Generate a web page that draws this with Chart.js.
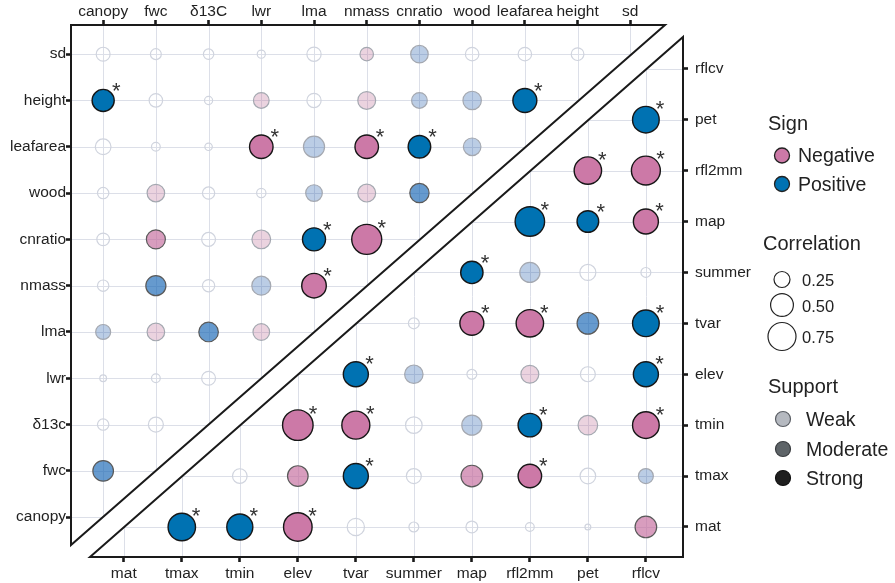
<!DOCTYPE html>
<html>
<head>
<meta charset="utf-8">
<script src="https://cdn.jsdelivr.net/npm/chart.js@4.4.1/dist/chart.umd.min.js"></script>
<style>
  html, body { margin: 0; padding: 0; background: #fff; }
</style>
</head>
<body>
<canvas id="corrChart" width="895" height="583"></canvas>
<script>
// Trait x trait panel (top + left axes)
const traitCols = ['canopy', 'fwc', 'δ13C', 'lwr', 'lma', 'nmass', 'cnratio', 'wood', 'leafarea', 'height', 'sd'];
const traitRows = ['canopy', 'fwc', 'δ13c', 'lwr', 'lma', 'nmass', 'cnratio', 'wood', 'leafarea', 'height', 'sd'];
// each row lists correlations with the columns before it
const traitR = [
    [],
    [0.41],
    [0.13, 0.22],
    [0.05, 0.08, 0.19],
    [0.22, -0.30, 0.37, -0.27],
    [0.13, 0.39, 0.15, 0.35, -0.58],
    [0.16, -0.35, 0.19, -0.34, 0.51, -0.86],
    [0.13, -0.30, 0.15, 0.09, 0.27, -0.31, 0.36],
    [0.24, 0.08, 0.06, -0.53, 0.43, -0.53, 0.49, 0.30],
    [0.47, 0.18, 0.07, -0.24, 0.20, -0.31, 0.24, 0.33, 0.55],
    [0.19, 0.12, 0.11, 0.07, 0.20, -0.18, 0.30, 0.18, 0.18, 0.16]
];
// N = none, W = weak, M = moderate, S = strong
const traitSupport = ['', 'M', 'NN', 'NNN', 'WWMW', 'NMNWS', 'NMNWSS', 'NWNNWWM', 'NNNSWSSW', 'SNNWNWWWS', 'NNNNNWWNNN'];

// Climate x climate panel (bottom + right axes)
const climVars = ['mat', 'tmax', 'tmin', 'elev', 'tvar', 'summer', 'map', 'rfl2mm', 'pet', 'rflcv'];
// each row lists correlations with the columns after it
const climR = [
    [0.72, 0.65, -0.78, 0.29, 0.10, 0.14, 0.08, 0.04, -0.45],
    [0.21, -0.41, 0.60, 0.22, -0.45, -0.53, 0.24, 0.22],
    [-0.89, -0.75, 0.27, 0.39, 0.53, -0.37, -0.68],
    [0.60, 0.33, 0.10, -0.31, 0.22, 0.60],
    [0.12, -0.55, -0.72, 0.45, 0.68],
    [0.48, 0.39, 0.25, 0.10],
    [0.83, 0.45, -0.60],
    [-0.72, -0.80],
    [0.68],
    []
];
const climSupport = ['SSSNNNNNM', 'NMSNMSNW', 'SSNWSWS', 'SWNWNS', 'NSSMS', 'SWNN', 'SSS', 'SS', 'S', ''];

const sizeBreaks = [0.25, 0.50, 0.75];

const FONT = '"Liberation Sans", Arial, sans-serif';
const TEXT = '#222';

function sizeOf(v) {
    return Math.sqrt(Math.max(264 * Math.abs(v) - 2, 4));
}

function cells(rows, support, upper) {
    const pts = [];
    rows.forEach(function(vals, r) {
        vals.forEach(function(v, k) {
            const c = upper ? k : r + 1 + k;
            pts.push({ x: c, y: r, r: sizeOf(v), v: v, s: support[r][k] });
        });
    });
    return pts;
}

const fills = {
    S: ['#CC79A7', '#0072B2'],
    M: ['rgba(195,105,155,0.65)', 'rgba(20,100,180,0.65)'],
    W: ['rgba(190,110,150,0.3)', 'rgba(30,90,170,0.3)'],
    N: ['rgba(0,0,0,0)', 'rgba(0,0,0,0)']
};
const borders = { S: '#161616', M: '#5a5a5a', W: '#a4a8b0', N: '#d0d4de' };

function fillColor(ctx) {
    const p = ctx.raw;
    if (!p) return 'rgba(0,0,0,0)';
    return fills[p.s][p.v < 0 ? 0 : 1];
}
function borderColor(ctx) {
    const p = ctx.raw;
    if (!p) return '#000';
    return borders[p.s];
}

function catAxis(pos, labels, min, max, pad, size) {
    return {
        type: 'linear',
        position: pos,
        min: min,
        max: max,
        afterBuildTicks: function(axis) {
            axis.ticks = labels.map(function(_, i) { return { value: i }; });
        },
        afterFit: function(axis) {
            if (pos === 'left' || pos === 'right') axis.width = size;
            else axis.height = size;
        },
        ticks: {
            callback: function(v) { return labels[v]; },
            autoSkip: false,
            maxRotation: 0,
            minRotation: 0,
            padding: pad,
            color: TEXT,
            font: { family: FONT, size: 15.5 }
        },
        grid: { drawOnChartArea: false, drawTicks: true, tickLength: 5, tickWidth: 2.6, tickColor: '#1a1a1a' },
        border: { display: false }
    };
}

// grid + triangle outlines, clipped to each panel
function triangles(a) {
    return {
        upper: [[a.left, a.top], [a.right - 18, a.top], [a.left, a.bottom - 12]],
        lower: [[a.right, a.top + 12], [a.right, a.bottom], [a.left + 19, a.bottom]]
    };
}

function tracePath(ctx, pts) {
    ctx.beginPath();
    ctx.moveTo(pts[0][0], pts[0][1]);
    for (let i = 1; i < pts.length; i++) ctx.lineTo(pts[i][0], pts[i][1]);
    ctx.closePath();
}

function drawGrid(ctx, tri, xs, ys, a) {
    ctx.save();
    tracePath(ctx, tri);
    ctx.clip();
    ctx.strokeStyle = '#dcdfe8';
    ctx.lineWidth = 1;
    xs.ticks.forEach(function(t) {
        const x = Math.round(xs.getPixelForValue(t.value)) + 0.5;
        ctx.beginPath(); ctx.moveTo(x, a.top); ctx.lineTo(x, a.bottom); ctx.stroke();
    });
    ys.ticks.forEach(function(t) {
        const y = Math.round(ys.getPixelForValue(t.value)) + 0.5;
        ctx.beginPath(); ctx.moveTo(a.left, y); ctx.lineTo(a.right, y); ctx.stroke();
    });
    ctx.restore();
}

const panelPlugin = {
    id: 'panels',
    beforeDatasetsDraw: function(chart) {
        const ctx = chart.ctx, a = chart.chartArea, s = chart.scales;
        const tri = triangles(a);
        drawGrid(ctx, tri.upper, s.x, s.y, a);
        drawGrid(ctx, tri.lower, s.x2, s.y2, a);
        ctx.save();
        ctx.strokeStyle = '#1a1a1a';
        ctx.lineWidth = 2;
        ctx.lineJoin = 'miter';
        [tri.upper, tri.lower].forEach(function(t) { tracePath(ctx, t); ctx.stroke(); });
        ctx.restore();
    }
};

// asterisks on strongly supported correlations
const starPlugin = {
    id: 'stars',
    afterDatasetsDraw: function(chart) {
        const ctx = chart.ctx;
        const fs = 22;
        ctx.save();
        ctx.fillStyle = '#333';
        ctx.font = fs + 'px ' + FONT;
        ctx.textAlign = 'center';
        ctx.textBaseline = 'alphabetic';
        chart.data.datasets.forEach(function(ds, i) {
            chart.getDatasetMeta(i).data.forEach(function(el, j) {
                const p = ds.data[j];
                if (p.s !== 'S') return;
                const r = el.options.radius;
                ctx.fillText('*', el.x + 0.5 * r + 7.5, el.y - (0.5 * r + 9.5) + 0.57 * fs);
            });
        });
        ctx.restore();
    }
};

function legendDot(ctx, x, y, r, fill, stroke, lw) {
    ctx.beginPath();
    ctx.arc(x, y, r, 0, Math.PI * 2);
    ctx.fillStyle = fill;
    ctx.fill();
    ctx.lineWidth = lw;
    ctx.strokeStyle = stroke;
    ctx.stroke();
}

const legendPlugin = {
    id: 'sideLegend',
    afterDraw: function(chart) {
        const ctx = chart.ctx;
        ctx.save();
        ctx.fillStyle = TEXT;
        ctx.textAlign = 'left';
        ctx.textBaseline = 'alphabetic';

        // Sign
        ctx.font = '20px ' + FONT;
        ctx.fillText('Sign', 768, 130);
        legendDot(ctx, 782, 155.5, 7.5, fills.S[0], '#222', 1.3);
        legendDot(ctx, 782, 184, 7.5, fills.S[1], '#222', 1.3);
        ctx.fillStyle = TEXT;
        ctx.font = '19.5px ' + FONT;
        ctx.fillText('Negative', 798, 162);
        ctx.fillText('Positive', 798, 190.5);

        // Correlation
        ctx.font = '20px ' + FONT;
        ctx.fillText('Correlation', 763, 250);
        ctx.font = '16.5px ' + FONT;
        const cy = [279.5, 305, 336.5];
        const ty = [286, 312, 343];
        sizeBreaks.forEach(function(b, i) {
            legendDot(ctx, 782, cy[i], sizeOf(b), '#fff', '#222', 1.2);
            ctx.fillStyle = TEXT;
            ctx.fillText(b.toFixed(2), 802, ty[i]);
        });

        // Support
        ctx.font = '20px ' + FONT;
        ctx.fillText('Support', 768, 393);
        ctx.font = '19.5px ' + FONT;
        const sup = [['Weak', '#b5b9c0', '#5a5e64', 419, 426], ['Moderate', '#5e6468', '#3a3d40', 449, 456], ['Strong', '#1f1f1f', '#111', 478, 485]];
        sup.forEach(function(s) {
            legendDot(ctx, 783, s[3], 7.5, s[1], s[2], 1.2);
            ctx.fillStyle = TEXT;
            ctx.fillText(s[0], 806, s[4]);
        });
        ctx.restore();
    }
};

new Chart(document.getElementById('corrChart'), {
    type: 'bubble',
    data: {
        datasets: [
            {
                data: cells(traitR, traitSupport, true),
                xAxisID: 'x',
                yAxisID: 'y',
                backgroundColor: fillColor,
                borderColor: borderColor,
                borderWidth: function(ctx) { return ctx.raw && ctx.raw.s === 'S' ? 1.4 : 1.2; },
                clip: false
            },
            {
                data: cells(climR, climSupport, false),
                xAxisID: 'x2',
                yAxisID: 'y2',
                backgroundColor: fillColor,
                borderColor: borderColor,
                borderWidth: function(ctx) { return ctx.raw && ctx.raw.s === 'S' ? 1.4 : 1.2; },
                clip: false
            }
        ]
    },
    options: {
        responsive: false,
        animation: false,
        events: [],
        layout: { padding: 0 },
        plugins: {
            legend: { display: false },
            tooltip: { enabled: false }
        },
        scales: {
            x: catAxis('top', traitCols, -0.61, 11.0, -1, 25),
            y: catAxis('left', traitRows, -0.86, 10.63, 0, 71),
            x2: catAxis('bottom', climVars, -0.91, 9.64, 2, 26),
            y2: catAxis('right', climVars, -0.59, 9.86, 7, 212)
        }
    },
    plugins: [panelPlugin, starPlugin, legendPlugin]
});
</script>
</body>
</html>
